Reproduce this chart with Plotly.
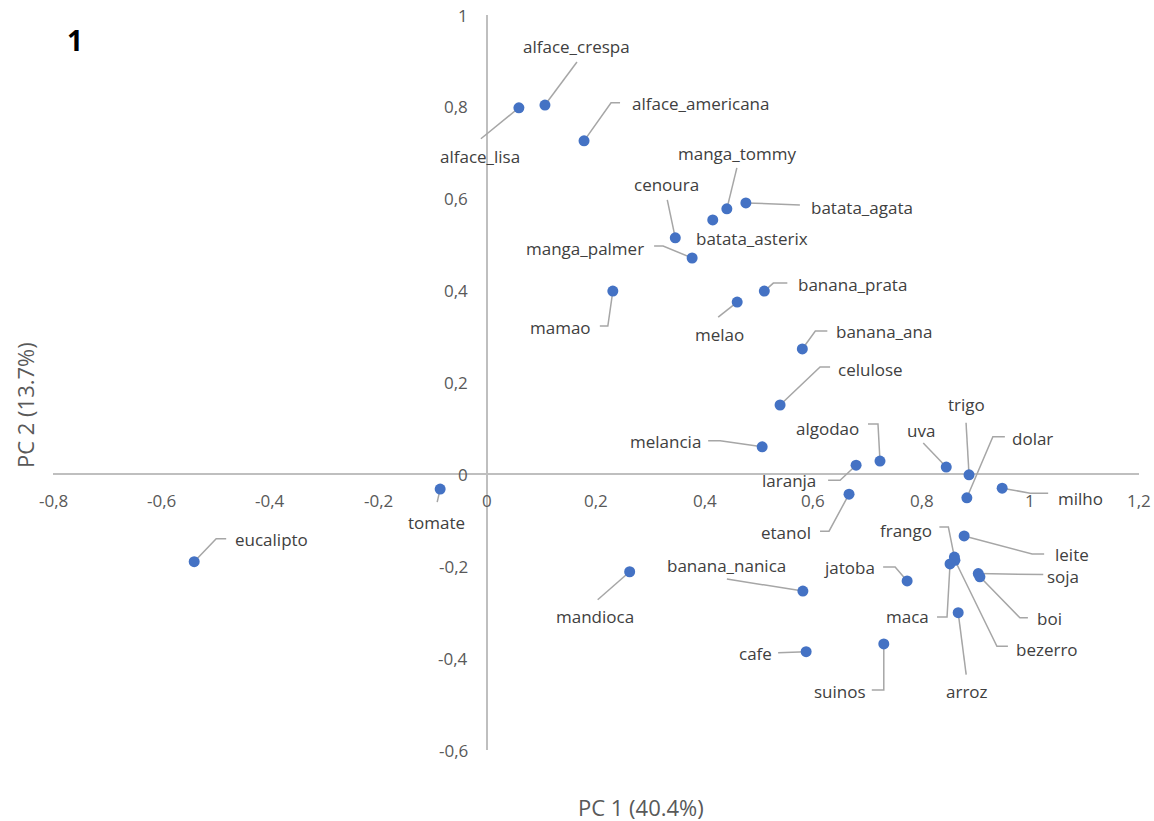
import plotly.graph_objects as go

# PCA loadings (PC1, PC2) for each variable
names = [
    "alface_crespa", "alface_lisa", "alface_americana", "manga_tommy", "batata_agata",
    "batata_asterix", "cenoura", "manga_palmer", "mamao", "melao", "banana_prata",
    "banana_ana", "celulose", "melancia", "laranja", "algodao", "uva", "trigo",
    "dolar", "milho", "etanol", "leite", "frango", "bezerro", "maca", "soja", "boi",
    "arroz", "jatoba", "suinos", "cafe", "banana_nanica", "mandioca", "eucalipto",
    "tomate",
]
pc1 = [
    0.106, 0.058, 0.178, 0.441, 0.476,
    0.415, 0.346, 0.377, 0.231, 0.460, 0.510,
    0.580, 0.539, 0.506, 0.679, 0.723, 0.845, 0.887,
    0.883, 0.948, 0.666, 0.878, 0.860, 0.861, 0.852, 0.904, 0.907,
    0.867, 0.773, 0.730, 0.587, 0.581, 0.262, -0.540,
    -0.087,
]
pc2 = [
    0.804, 0.798, 0.726, 0.578, 0.591,
    0.554, 0.515, 0.471, 0.399, 0.375, 0.399,
    0.273, 0.151, 0.060, 0.020, 0.029, 0.016, -0.001,
    -0.051, -0.030, -0.043, -0.134, -0.180, -0.187, -0.195, -0.216, -0.223,
    -0.301, -0.232, -0.369, -0.386, -0.254, -0.212, -0.190,
    -0.032,
]

x_ticks = [-0.8, -0.6, -0.4, -0.2, 0, 0.2, 0.4, 0.6, 0.8, 1, 1.2]
y_ticks = [-0.6, -0.4, -0.2, 0, 0.2, 0.4, 0.6, 0.8, 1]

# Label placement: centre offset (px, screen dy down) and leader-line vertices
label_offset = {
    "alface_crespa": (32, -59), "alface_lisa": (-39, 49), "alface_americana": (116, -37),
    "manga_tommy": (10, -55), "batata_agata": (116, 5), "batata_asterix": (39, 19),
    "cenoura": (-9, -53), "manga_palmer": (-107, -10), "mamao": (-52, 36),
    "melao": (-18, 32), "banana_prata": (88, -7), "banana_ana": (82, -17),
    "celulose": (90, -36), "melancia": (-97, -5), "laranja": (-67, 15),
    "algodao": (-52, -33), "uva": (-25, -37), "trigo": (-3, -70), "dolar": (66, -59),
    "milho": (78, 10), "etanol": (-63, 38), "leite": (108, 19), "frango": (-48, -27),
    "bezerro": (92, 89), "maca": (-43, 53), "soja": (85, 3), "boi": (70, 42),
    "arroz": (9, 79), "jatoba": (-58, -13), "suinos": (-44, 48), "cafe": (-51, 2),
    "banana_nanica": (-76, -26), "mandioca": (-35, 45), "eucalipto": (77, -22),
    "tomate": (-4, 33),
}
leader_path = {
    "alface_crespa": [(32, -43)], "alface_lisa": [(-38, 31)],
    "alface_americana": [(36, -38), (27, -38)], "manga_tommy": [(10, -41)],
    "batata_agata": [(54, 2)], "batata_asterix": [],
    "cenoura": [(-8, -38)], "manga_palmer": [(-38, -12), (-29, -12)],
    "mamao": [(-13, 35), (-5, 35)], "melao": [(-19, 15)],
    "banana_prata": [(23, -8), (9, -8)], "banana_ana": [(25, -18), (13, -18)],
    "celulose": [(50, -38), (40, -38)], "melancia": [(-54, -6), (-42, -6)],
    "laranja": [(-28, 15), (-16, 15)], "algodao": [(-12, -37), (-2, -37)],
    "uva": [(-23, -24)], "trigo": [(-3, -52)], "dolar": [(38, -61), (26, -61)],
    "milho": [(46, 5), (28, 5)], "etanol": [(-29, 37), (-20, 37)],
    "leite": [(80, 18), (68, 18)], "frango": [(-15, -30), (-6, -30)],
    "bezerro": [(53, 86), (42, 86)], "maca": [(-13, 53), (-3, 53)],
    "soja": [(65, 1)], "boi": [(48, 41), (40, 41)], "arroz": [(8, 62)],
    "jatoba": [(-24, -14), (-12, -14)], "suinos": [(-12, 46), (0, 46)],
    "cafe": [(-28, 1)], "banana_nanica": [(-76, -12)], "mandioca": [(-32, 28)],
    "eucalipto": [(32, -23), (22, -23)], "tomate": [(-3, 13)],
}

W, H = 1154, 821
ML, MR, MT, MB = 53, 15, 15, 71
X_RANGE = (-0.8, 1.2)
Y_RANGE = (-0.6, 1.0)
PX_X = (W - ML - MR) / (X_RANGE[1] - X_RANGE[0])
PX_Y = (H - MT - MB) / (Y_RANGE[1] - Y_RANGE[0])

FONT = "Open Sans, Noto Sans, sans-serif"
MARK = "#4472C4"
LEAD = "#A6A6A6"
TXT = "#404040"
TICK = "#595959"

# leader lines in data coordinates
lx, ly = [], []
for n, x, y in zip(names, pc1, pc2):
    pts = leader_path[n]
    if not pts:
        continue
    for dx, dy in pts:
        lx.append(x + dx / PX_X)
        ly.append(y - dy / PX_Y)
    lx.append(x)
    ly.append(y)
    lx.append(None)
    ly.append(None)

fig = go.Figure()
fig.add_trace(go.Scatter(
    x=lx, y=ly, mode="lines",
    line=dict(color=LEAD, width=1.5),
    hoverinfo="skip", showlegend=False,
))
fig.add_trace(go.Scatter(
    x=pc1, y=pc2, mode="markers", text=names,
    marker=dict(color=MARK, size=11, line=dict(width=0)),
    showlegend=False,
))

ann = []
for n, x, y in zip(names, pc1, pc2):
    dx, dy = label_offset[n]
    ann.append(dict(
        x=x + dx / PX_X, y=y - dy / PX_Y, xref="x", yref="y",
        text=n, showarrow=False, xanchor="center", yanchor="middle",
        font=dict(family=FONT, size=17, color=TXT),
    ))

def fmt(v):
    return f"{v:g}".replace(".", ",")

for v in x_ticks:
    ann.append(dict(
        x=v, y=0, xref="x", yref="y", text=fmt(v), showarrow=False,
        xanchor="center", yanchor="middle", yshift=-26,
        font=dict(family=FONT, size=17, color=TICK),
    ))
for v in y_ticks:
    ann.append(dict(
        x=0, y=v, xref="x", yref="y", text=fmt(v), showarrow=False,
        xanchor="right", yanchor="middle", xshift=-17,
        font=dict(family=FONT, size=17, color=TICK),
    ))

pw, ph = W - ML - MR, H - MT - MB
ann.append(dict(
    x=(641 - ML) / pw, y=(H - MB - 807) / ph, xref="paper", yref="paper",
    text="PC 1 (40.4%)", showarrow=False, xanchor="center", yanchor="middle",
    font=dict(family=FONT, size=22, color=TICK),
))
ann.append(dict(
    x=(25 - ML) / pw, y=(H - MB - 405) / ph, xref="paper", yref="paper",
    text="PC 2 (13.7%)", showarrow=False, xanchor="center", yanchor="middle",
    textangle=-90, font=dict(family=FONT, size=22, color=TICK),
))
ann.append(dict(
    x=(75 - ML) / pw, y=(H - MB - 40) / ph, xref="paper", yref="paper",
    text="<b>1</b>", showarrow=False, xanchor="center", yanchor="middle",
    font=dict(family=FONT, size=28, color="#000000"),
))

axis_common = dict(
    showgrid=False, showticklabels=False, ticks="", showline=False,
    zeroline=True, zerolinecolor="#BFBFBF", zerolinewidth=1.5, fixedrange=True,
)
fig.update_layout(
    width=W, height=H,
    margin=dict(l=ML, r=MR, t=MT, b=MB),
    paper_bgcolor="white", plot_bgcolor="white",
    xaxis=dict(range=list(X_RANGE), **axis_common),
    yaxis=dict(range=list(Y_RANGE), **axis_common),
    annotations=ann,
)

fig.write_html("out.html")
